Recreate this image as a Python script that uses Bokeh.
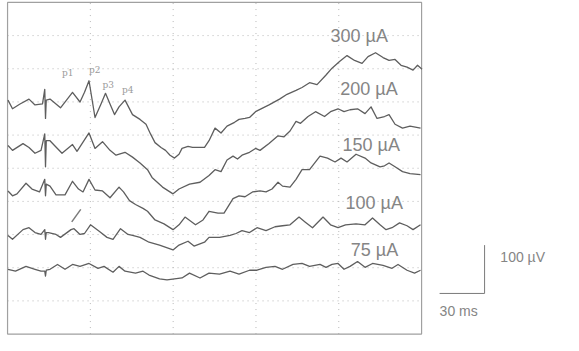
from bokeh.plotting import figure
from bokeh.models import Range1d
from bokeh.core.properties import value
from bokeh.embed import file_html
from bokeh.resources import INLINE

# ---- data: time (ms, 0 = stimulus) and response (µV, relative to trace baseline)
t_300 = [-25, -22, -17, -11, -7, -2, -0.5, 0, 0.5, 3, 7, 10, 14, 18, 23, 26, 29, 33, 37,
         40, 43, 46, 49, 53, 58, 63, 67, 70, 73, 77, 80, 83, 86, 89, 91, 95, 98, 102, 106,
         109, 113, 117, 121, 126, 129, 133, 136, 140, 145, 149, 156, 161, 167, 171, 176, 181,
         187, 191, 196, 201, 206, 211, 215, 220, 225, 229, 233, 237, 241, 245, 248, 251]
uv_300 = [0, -18, -8, 2, -10, -8, 22, -38, 0, 2, -8, -16, 0, 16, -4, 16, 40, -36, -8,
          14, -8, -30, -14, 0, -30, -40, -50, -70, -88, -98, -104, -114, -120, -112, -100, -96, -98, -98, -98,
          -84, -58, -68, -54, -46, -40, -38, -36, -24, -16, -10, 2, 12, 20, 26, 36, 32,
          52, 66, 80, 92, 82, 76, 90, 98, 88, 82, 84, 72, 68, 62, 72, 64]

t_200 = [-25, -22, -15, -11, -7, -3, -0.5, 0, 0.5, 3, 6, 11, 18, 21, 29, 33, 38, 43, 47,
         53, 58, 63, 68, 71, 78, 85, 89, 96, 103, 109, 113, 117, 121, 125, 128, 131, 136, 140, 143,
         149, 155, 159, 163, 167, 170, 175, 180, 186, 190, 195, 199, 203, 208, 213, 217, 221, 226,
         229, 233, 238, 243, 250]
uv_200 = [0, -10, 4, -4, -16, -10, 24, -44, 10, 10, 0, -16, 2, -12, 26, -6, 8, -10, -20,
          -14, -24, -36, -50, -66, -86, -100, -90, -80, -76, -62, -50, -54, -30, -22, -28, -20, -14, -6, -10,
          4, 20, 18, 30, 50, 46, 60, 70, 60, 70, 76, 70, 74, 76, 66, 80, 56, 60,
          64, 44, 36, 40, 36]

t_150 = [-25, -22, -19, -13, -9, -4, -0.5, 0, 0.5, 3, 7, 13, 18, 22, 25, 29, 33, 38, 43,
         49, 52, 56, 60, 65, 68, 73, 79, 85, 89, 93, 100, 105, 109, 115, 119, 125, 129, 133, 138,
         143, 147, 151, 155, 158, 163, 167, 171, 176, 180, 183, 188, 193, 197, 201, 207, 213, 217,
         223, 226, 229, 233, 238, 243, 250]
uv_150 = [0, -10, -6, 16, 4, -2, 24, -10, 14, 10, -8, -8, 20, 4, -2, 24, 2, 0, -14,
          8, -2, -20, -28, -36, -42, -60, -68, -80, -70, -54, -70, -60, -42, -46, -46, -16, -10, -12, -2,
          0, -2, 4, 18, 10, 8, 24, 44, 44, 60, 72, 68, 60, 68, 60, 76, 68, 58,
          50, 52, 58, 50, 40, 36, 34]

t_100 = [-25, -22, -15, -11, -7, -3, -0.5, 0, 0.5, 2, 7, 10, 17, 19, 23, 26, 30, 36, 41,
         45, 50, 55, 58, 63, 69, 76, 85, 89, 95, 99, 106, 109, 116, 123, 127, 131, 136, 141, 147,
         153, 158, 163, 169, 173, 178, 185, 190, 195, 200, 207, 213, 218, 223, 227, 231, 236, 241,
         245, 250]
uv_100 = [0, -8, 12, 16, 6, 2, 12, -8, 6, 6, 2, -4, 12, 14, 2, 4, 22, 8, -4,
          -8, 14, 2, 0, -4, -14, -20, -30, -20, -12, -22, -14, -4, -4, 0, 4, 10, 6, 16, 10,
          18, 20, 22, 38, 28, 16, 38, 22, 16, 22, 24, 22, 36, 22, 12, 16, 26, 20,
          12, 22]

t_75 = [-25, -20, -13, -7, -3, -0.5, 0, 0.5, 3, 8, 13, 18, 23, 29, 35, 39, 45, 49,
        53, 60, 65, 69, 76, 81, 86, 91, 96, 103, 109, 116, 123, 129, 136, 141, 147, 153, 158, 165,
        171, 176, 183, 187, 191, 195, 199, 203, 208, 213, 218, 225, 231, 235, 241, 246, 250]
uv_75 = [0, -4, 6, 0, -4, -4, -14, -2, 0, 10, 0, 10, 6, 12, 2, 6, -6, 6,
         -4, -8, -4, -12, -20, -22, -20, -18, -8, -18, -8, -10, -4, -10, -2, -2, 4, 6, 0, 10,
         12, 6, 10, 4, 10, 12, 0, 6, 16, 4, 12, 8, 2, 10, -2, -8, -2]

currents = ["300 µA", "200 µA", "150 µA", "100 µA", "75 µA"]
peak_names = ["p1", "p2", "p3", "p4"]
scale_ms = 30
scale_uv = 100

# ---- layout (display offsets and positions)
times = [t_300, t_200, t_150, t_100, t_75]
volts = [uv_300, uv_200, uv_150, uv_100, uv_75]
offsets = [484, 390, 296, 204, 134]
label_x = [190, 196.5, 198, 200, 203.5]
label_y = [616, 506, 392, 272, 174]
peak_x = [11, 29, 38, 51]
peak_y = [540, 546, 516, 504]

box_l, box_r, box_b, box_t = -25.3, 250.7, 0, 686

p = figure(width=563, height=335, output_backend="svg", toolbar_location=None,
           x_range=Range1d(-30, 345.3), y_range=Range1d(-3, 690),
           x_axis_location=None, y_axis_location=None, min_border=0)
p.outline_line_color = None
p.xgrid.grid_line_color = None
p.ygrid.grid_line_color = None
p.background_fill_color = "white"
p.border_fill_color = "white"

# screen grid (5 x 10 divisions)
gx = [box_l + k * (box_r - box_l) / 5 for k in range(1, 5)]
gy = [box_b + k * (box_t - box_b) / 10 for k in range(1, 10)]
p.segment(x0=gx, y0=[box_b] * len(gx), x1=gx, y1=[box_t] * len(gx),
          line_color="#b8b8b8", line_width=1, line_dash="1 5")
p.segment(x0=[box_l] * len(gy), y0=gy, x1=[box_r] * len(gy), y1=gy,
          line_color="#b8b8b8", line_width=1, line_dash="1 4")
p.quad(left=[box_l], right=[box_r], bottom=[box_b], top=[box_t],
       fill_color=None, line_color="#a0a0a0", line_width=1.2)

# traces
for t, v, off in zip(times, volts, offsets):
    p.line(t, [vi + off for vi in v], line_color="#5e5e5e", line_width=1.3,
           line_join="round")

p.text(x=label_x, y=label_y, text=currents, text_font=value("Liberation Sans"),
       text_font_size="18px", text_color="#858585", text_baseline="middle")
p.text(x=peak_x, y=peak_y, text=peak_names, text_font=value("DejaVu Serif"),
       text_font_size="9px", text_color="#9a9a9a", text_baseline="middle")

# small marker on the 100 µA trace
p.segment(x0=[23.5], y0=[258], x1=[17.5], y1=[232], line_color="#7a7a7a", line_width=1.5)

# scale bar
cx, cy = 292.7, 84
p.line([cx - scale_ms, cx, cx], [cy, cy, cy + scale_uv], line_color="#7a7a7a", line_width=1)
p.text(x=[cx + 10.5], y=[cy + 76], text=[f"{scale_uv} µV"], text_font=value("Liberation Sans"),
       text_font_size="14px", text_color="#858585", text_baseline="middle")
p.text(x=[cx - scale_ms], y=[cy - 36], text=[f"{scale_ms} ms"], text_font=value("Liberation Sans"),
       text_font_size="14px", text_color="#858585", text_baseline="middle")

open("out.html", "w").write(file_html(p, INLINE))
